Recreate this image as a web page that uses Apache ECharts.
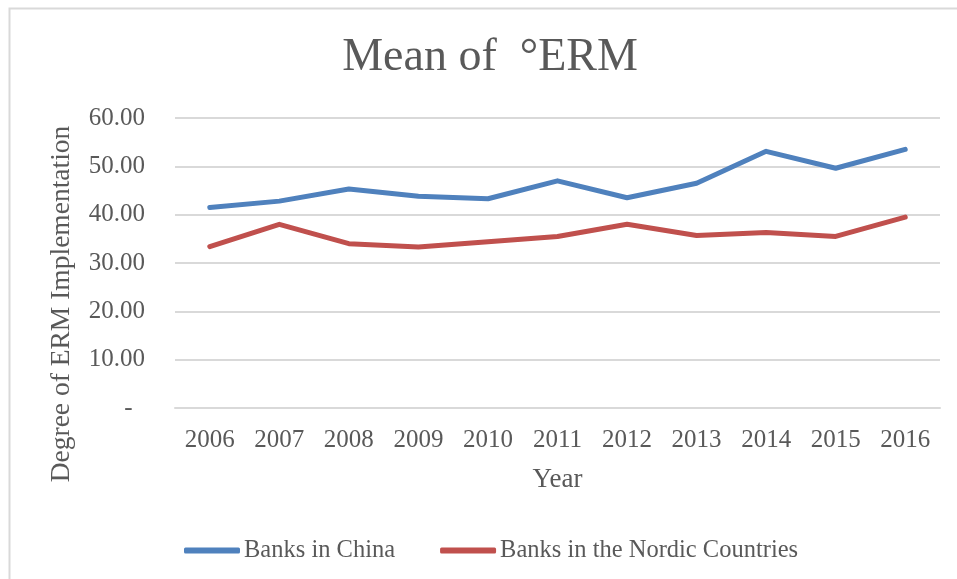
<!DOCTYPE html>
<html>
<head>
<meta charset="utf-8">
<script src="https://cdn.jsdelivr.net/npm/echarts@6/dist/echarts.min.js"></script>
<style>
  html, body { margin: 0; padding: 0; background: #fff; }
  #chart { width: 957px; height: 579px; }
</style>
</head>
<body>
<div id="chart"></div>
<script>
// Mean ERM implementation scores per year
const years = ['2006', '2007', '2008', '2009', '2010', '2011', '2012', '2013', '2014', '2015', '2016'];
const chinaBanks = [41.5, 42.8, 45.3, 43.8, 43.3, 47.0, 43.5, 46.5, 53.1, 49.6, 53.5];
const nordicBanks = [33.4, 38.0, 34.0, 33.3, 34.4, 35.5, 38.0, 35.7, 36.3, 35.5, 39.5];
const seriesNames = ['Banks in China', 'Banks in the Nordic Countries'];

const FONT = 'Liberation Serif';
const TEXT = '#595959';
const GRID = '#d9d9d9';

const chart = echarts.init(document.getElementById('chart'), null, { renderer: 'canvas' });

chart.setOption({
  backgroundColor: '#ffffff',
  animation: false,
  graphic: [
    {
      type: 'rect',
      shape: { x: 9.5, y: 8.5, width: 1000, height: 700 },
      style: { fill: 'none', stroke: GRID, lineWidth: 2 },
      silent: true
    },
    {
      type: 'text',
      x: 62,
      y: 304,
      rotation: Math.PI / 2,
      style: {
        text: 'Degree of ERM Implementation',
        fill: TEXT,
        font: '27.5px "' + FONT + '"',
        textAlign: 'center',
        textVerticalAlign: 'middle'
      }
    }
  ],
  title: {
    text: 'Mean of  \u00B0ERM',
    left: 485,
    top: 30,
    textAlign: 'center',
    textStyle: { fontFamily: FONT, fontSize: 46, fontWeight: 'normal', color: TEXT }
  },
  legend: {
    data: seriesNames,
    left: 179,
    top: 533,
    itemWidth: 56,
    itemHeight: 6,
    itemGap: 45,
    icon: 'roundRect',
    textStyle: { fontFamily: FONT, fontSize: 24.5, color: TEXT, padding: [0, 0, 0, -1] }
  },
  grid: { left: 175, right: 17, top: 118, bottom: 171 },
  xAxis: {
    type: 'category',
    data: years,
    boundaryGap: true,
    name: 'Year',
    nameLocation: 'middle',
    nameGap: 58,
    nameTextStyle: { fontFamily: FONT, fontSize: 27, color: TEXT },
    axisLine: { lineStyle: { color: GRID, width: 2 } },
    axisTick: { show: false },
    axisLabel: { fontFamily: FONT, fontSize: 25, color: TEXT, margin: 20 }
  },
  yAxis: {
    type: 'value',
    min: 0,
    max: 60,
    interval: 10,
    axisLine: { show: false },
    axisTick: { show: false },
    splitLine: { lineStyle: { color: GRID, width: 2 } },
    axisLabel: {
      fontFamily: FONT, fontSize: 25, color: TEXT, margin: 30,
      formatter: v => v === 0 ? '-  ' : v.toFixed(2)
    }
  },
  series: [
    {
      name: seriesNames[0],
      type: 'line',
      data: chinaBanks,
      symbol: 'none',
      color: '#4f81bd',
      lineStyle: { width: 5, color: '#4f81bd', cap: 'round', join: 'round' }
    },
    {
      name: seriesNames[1],
      type: 'line',
      data: nordicBanks,
      symbol: 'none',
      color: '#c0504d',
      lineStyle: { width: 5, color: '#c0504d', cap: 'round', join: 'round' }
    }
  ]
});
</script>
</body>
</html>
